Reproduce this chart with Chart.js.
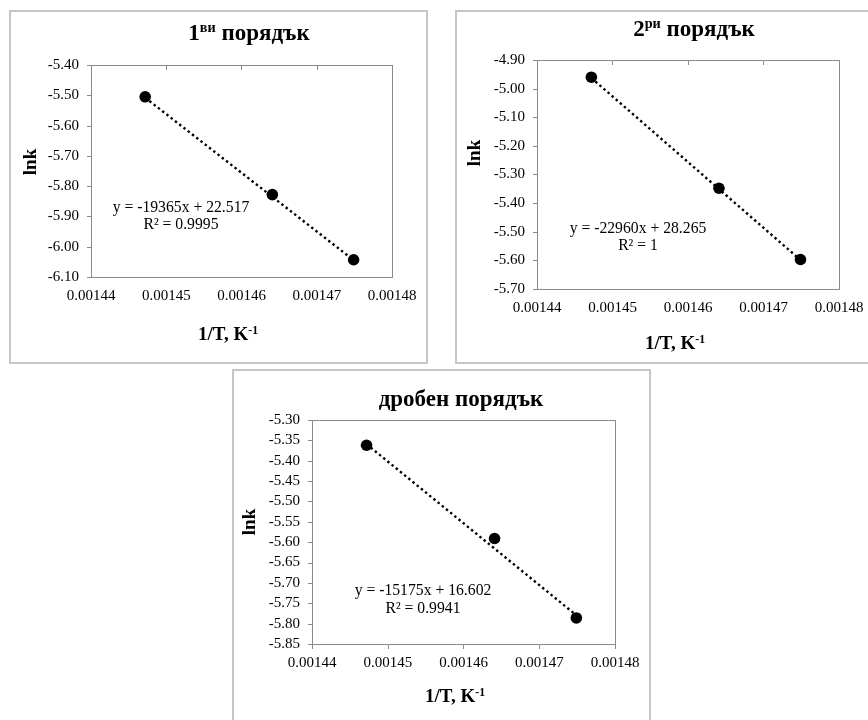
<!DOCTYPE html>
<html lang="bg">
<head>
<meta charset="UTF-8">
<title>Енергия на активиране – lnk спрямо 1/T</title>
<script src="https://cdn.jsdelivr.net/npm/chart.js"></script>
<style>
  body { margin: 0; background: #fff; width: 868px; height: 720px; overflow: hidden; position: relative;
         font-family: "Liberation Serif", "Times New Roman", serif; }
  .panel { position: absolute; width: 419px; height: 354px; }
  .panel canvas { position: absolute; left: 0; top: 0; }
  .frame { position: absolute; left: 0; top: 0; right: 0; bottom: 0; border: 2px solid #c6c6c6;
           box-sizing: border-box; pointer-events: none; }
  .txt { position: absolute; white-space: nowrap; line-height: 1; color: #000;
         transform: translate(-50%, -50%); }
  .title { font-weight: bold; font-size: 23px; }
  .axis { font-weight: bold; font-size: 19px; }
  .ylab { transform: translate(-50%, -50%) rotate(-90deg); }
  .eq { font-size: 15.7px; }
  .sup { font-size: 0.62em; position: relative; top: -0.55em; }
</style>
</head>
<body>

<!-- 1-ви порядък -->
<div class="panel" id="p1" style="left:9px; top:10px;">
  <canvas id="c1" width="419" height="354"></canvas>
  <div class="frame"></div>
  <div class="txt title" style="left:240px; top:22px;">1<span class="sup">ви</span> порядък</div>
  <div class="txt axis ylab" style="left:20px; top:152px;">lnk</div>
  <div class="txt axis" style="left:219px; top:323px;">1/T, K<span class="sup">-1</span></div>
  <div class="txt eq" id="eq1a" style="left:172px; top:197px;"></div>
  <div class="txt eq" id="eq1b" style="left:172px; top:214px;"></div>
</div>

<!-- 2-ри порядък -->
<div class="panel" id="p2" style="left:455px; top:10px;">
  <canvas id="c2" width="419" height="354"></canvas>
  <div class="frame"></div>
  <div class="txt title" style="left:239px; top:18px;">2<span class="sup">ри</span> порядък</div>
  <div class="txt axis ylab" style="left:18px; top:143px;">lnk</div>
  <div class="txt axis" style="left:220px; top:332px;">1/T, K<span class="sup">-1</span></div>
  <div class="txt eq" id="eq2a" style="left:183px; top:218px;"></div>
  <div class="txt eq" id="eq2b" style="left:183px; top:235px;"></div>
</div>

<!-- дробен порядък -->
<div class="panel" id="p3" style="left:232px; top:369px;">
  <canvas id="c3" width="419" height="354"></canvas>
  <div class="frame"></div>
  <div class="txt title" style="left:229px; top:29px;">дробен порядък</div>
  <div class="txt axis ylab" style="left:16px; top:153px;">lnk</div>
  <div class="txt axis" style="left:223px; top:326px;">1/T, K<span class="sup">-1</span></div>
  <div class="txt eq" id="eq3a" style="left:191px; top:221px;"></div>
  <div class="txt eq" id="eq3b" style="left:191px; top:239px;"></div>
</div>

<script>
    // 1/T, K^-1 (общо за трите графики)
    const invT = [0.0014472, 0.0014641, 0.0014749];

    // lnk за всеки порядък
    const lnk1 = [-5.505, -5.828, -6.043];
    const lnk2 = [-4.960, -5.348, -5.597];
    const lnk3 = [-5.362, -5.591, -5.786];

    // линеен тренд y = a*x + b
    const slopes = [-19365, -22960, -15175];
    const intercepts = [22.517, 28.265, 16.602];
    const r2 = ['0.9995', '1', '0.9941'];

    // деления по осите
    const xTicks = [0.00144, 0.00145, 0.00146, 0.00147, 0.00148];
    const yTicks1 = [-6.10, -6.00, -5.90, -5.80, -5.70, -5.60, -5.50, -5.40];
    const yTicks2 = [-5.70, -5.60, -5.50, -5.40, -5.30, -5.20, -5.10, -5.00, -4.90];
    const yTicks3 = [-5.85, -5.80, -5.75, -5.70, -5.65, -5.60, -5.55, -5.50, -5.45, -5.40, -5.35, -5.30];

    const FONT = '"Liberation Serif", "Times New Roman", serif';
    const W = 419, H = 354;

    // рамка на областта с данни + малките деления
    const plotFrame = {
        id: 'plotFrame',
        beforeDatasetsDraw(chart, args, opts) {
            const ctx = chart.ctx;
            const a = chart.chartArea;
            const x = chart.scales.x, y = chart.scales.y;
            ctx.save();
            ctx.strokeStyle = '#8a8a8a';
            ctx.lineWidth = 1;
            ctx.strokeRect(a.left + 0.5, a.top + 0.5, a.right - a.left, a.bottom - a.top);
            ctx.beginPath();
            y.ticks.forEach(function (t) {
                const py = Math.round(y.getPixelForValue(t.value)) + 0.5;
                ctx.moveTo(a.left - 4, py);
                ctx.lineTo(a.left, py);
            });
            x.ticks.forEach(function (t) {
                const px = Math.round(x.getPixelForValue(t.value)) + 0.5;
                if (opts.top) {
                    ctx.moveTo(px, a.top);
                    ctx.lineTo(px, a.top + 5);
                } else {
                    ctx.moveTo(px, a.bottom);
                    ctx.lineTo(px, a.bottom + 5);
                }
            });
            ctx.stroke();
            ctx.restore();
        }
    };

    function plotarGrafico(canvasId, idx, lnk, yTicks, area, ticksOnTop) {
        const a = slopes[idx], b = intercepts[idx];
        const first = invT[0], last = invT[invT.length - 1];

        document.getElementById('eq' + (idx + 1) + 'a').textContent =
            'y = ' + a + 'x + ' + b.toFixed(3);
        document.getElementById('eq' + (idx + 1) + 'b').textContent = 'R² = ' + r2[idx];

        const dados = {
            datasets: [{
                label: 'lnk',
                data: invT.map((v, i) => ({ x: v, y: lnk[i] })),
                backgroundColor: '#000',
                borderColor: '#000',
                borderWidth: 0,
                pointRadius: 5.8,
                pointHoverRadius: 5.8
            }, {
                label: 'тренд',
                data: [{ x: first, y: a * first + b }, { x: last, y: a * last + b }],
                showLine: true,
                borderColor: '#000',
                borderWidth: 2.4,
                borderDash: [2.4, 3],
                pointRadius: 0,
                pointHoverRadius: 0
            }]
        };

        const tickFont = { family: FONT, size: 15 };

        const config = {
            type: 'scatter',
            data: dados,
            options: {
                responsive: false,
                animation: false,
                events: [],
                layout: { padding: { left: 0, top: area.t, right: W - area.r, bottom: 0 } },
                plugins: {
                    legend: { display: false },
                    tooltip: { enabled: false },
                    plotFrame: { top: ticksOnTop }
                },
                scales: {
                    x: {
                        type: 'linear',
                        min: xTicks[0],
                        max: xTicks[xTicks.length - 1],
                        afterBuildTicks: s => { s.ticks = xTicks.map(v => ({ value: v })); },
                        afterFit: s => { s.height = H - area.b; },
                        grid: { display: false, drawTicks: false },
                        border: { display: false },
                        ticks: {
                            padding: 10, color: '#000', font: tickFont,
                            autoSkip: false, maxRotation: 0,
                            callback: v => v.toFixed(5)
                        }
                    },
                    y: {
                        type: 'linear',
                        min: yTicks[0],
                        max: yTicks[yTicks.length - 1],
                        afterBuildTicks: s => { s.ticks = yTicks.map(v => ({ value: v })); },
                        afterFit: s => { s.width = area.l; },
                        grid: { display: false, drawTicks: false },
                        border: { display: false },
                        ticks: {
                            padding: 12, color: '#000', font: tickFont,
                            autoSkip: false,
                            callback: v => v.toFixed(2)
                        }
                    }
                }
            },
            plugins: [plotFrame]
        };

        return new Chart(document.getElementById(canvasId), config);
    }

    plotarGrafico('c1', 0, lnk1, yTicks1, { l: 82, t: 55, r: 383, b: 267 }, true);
    plotarGrafico('c2', 1, lnk2, yTicks2, { l: 82, t: 50, r: 384, b: 279 }, true);
    plotarGrafico('c3', 2, lnk3, yTicks3, { l: 80, t: 51, r: 383, b: 275 }, false);
</script>
</body>
</html>
